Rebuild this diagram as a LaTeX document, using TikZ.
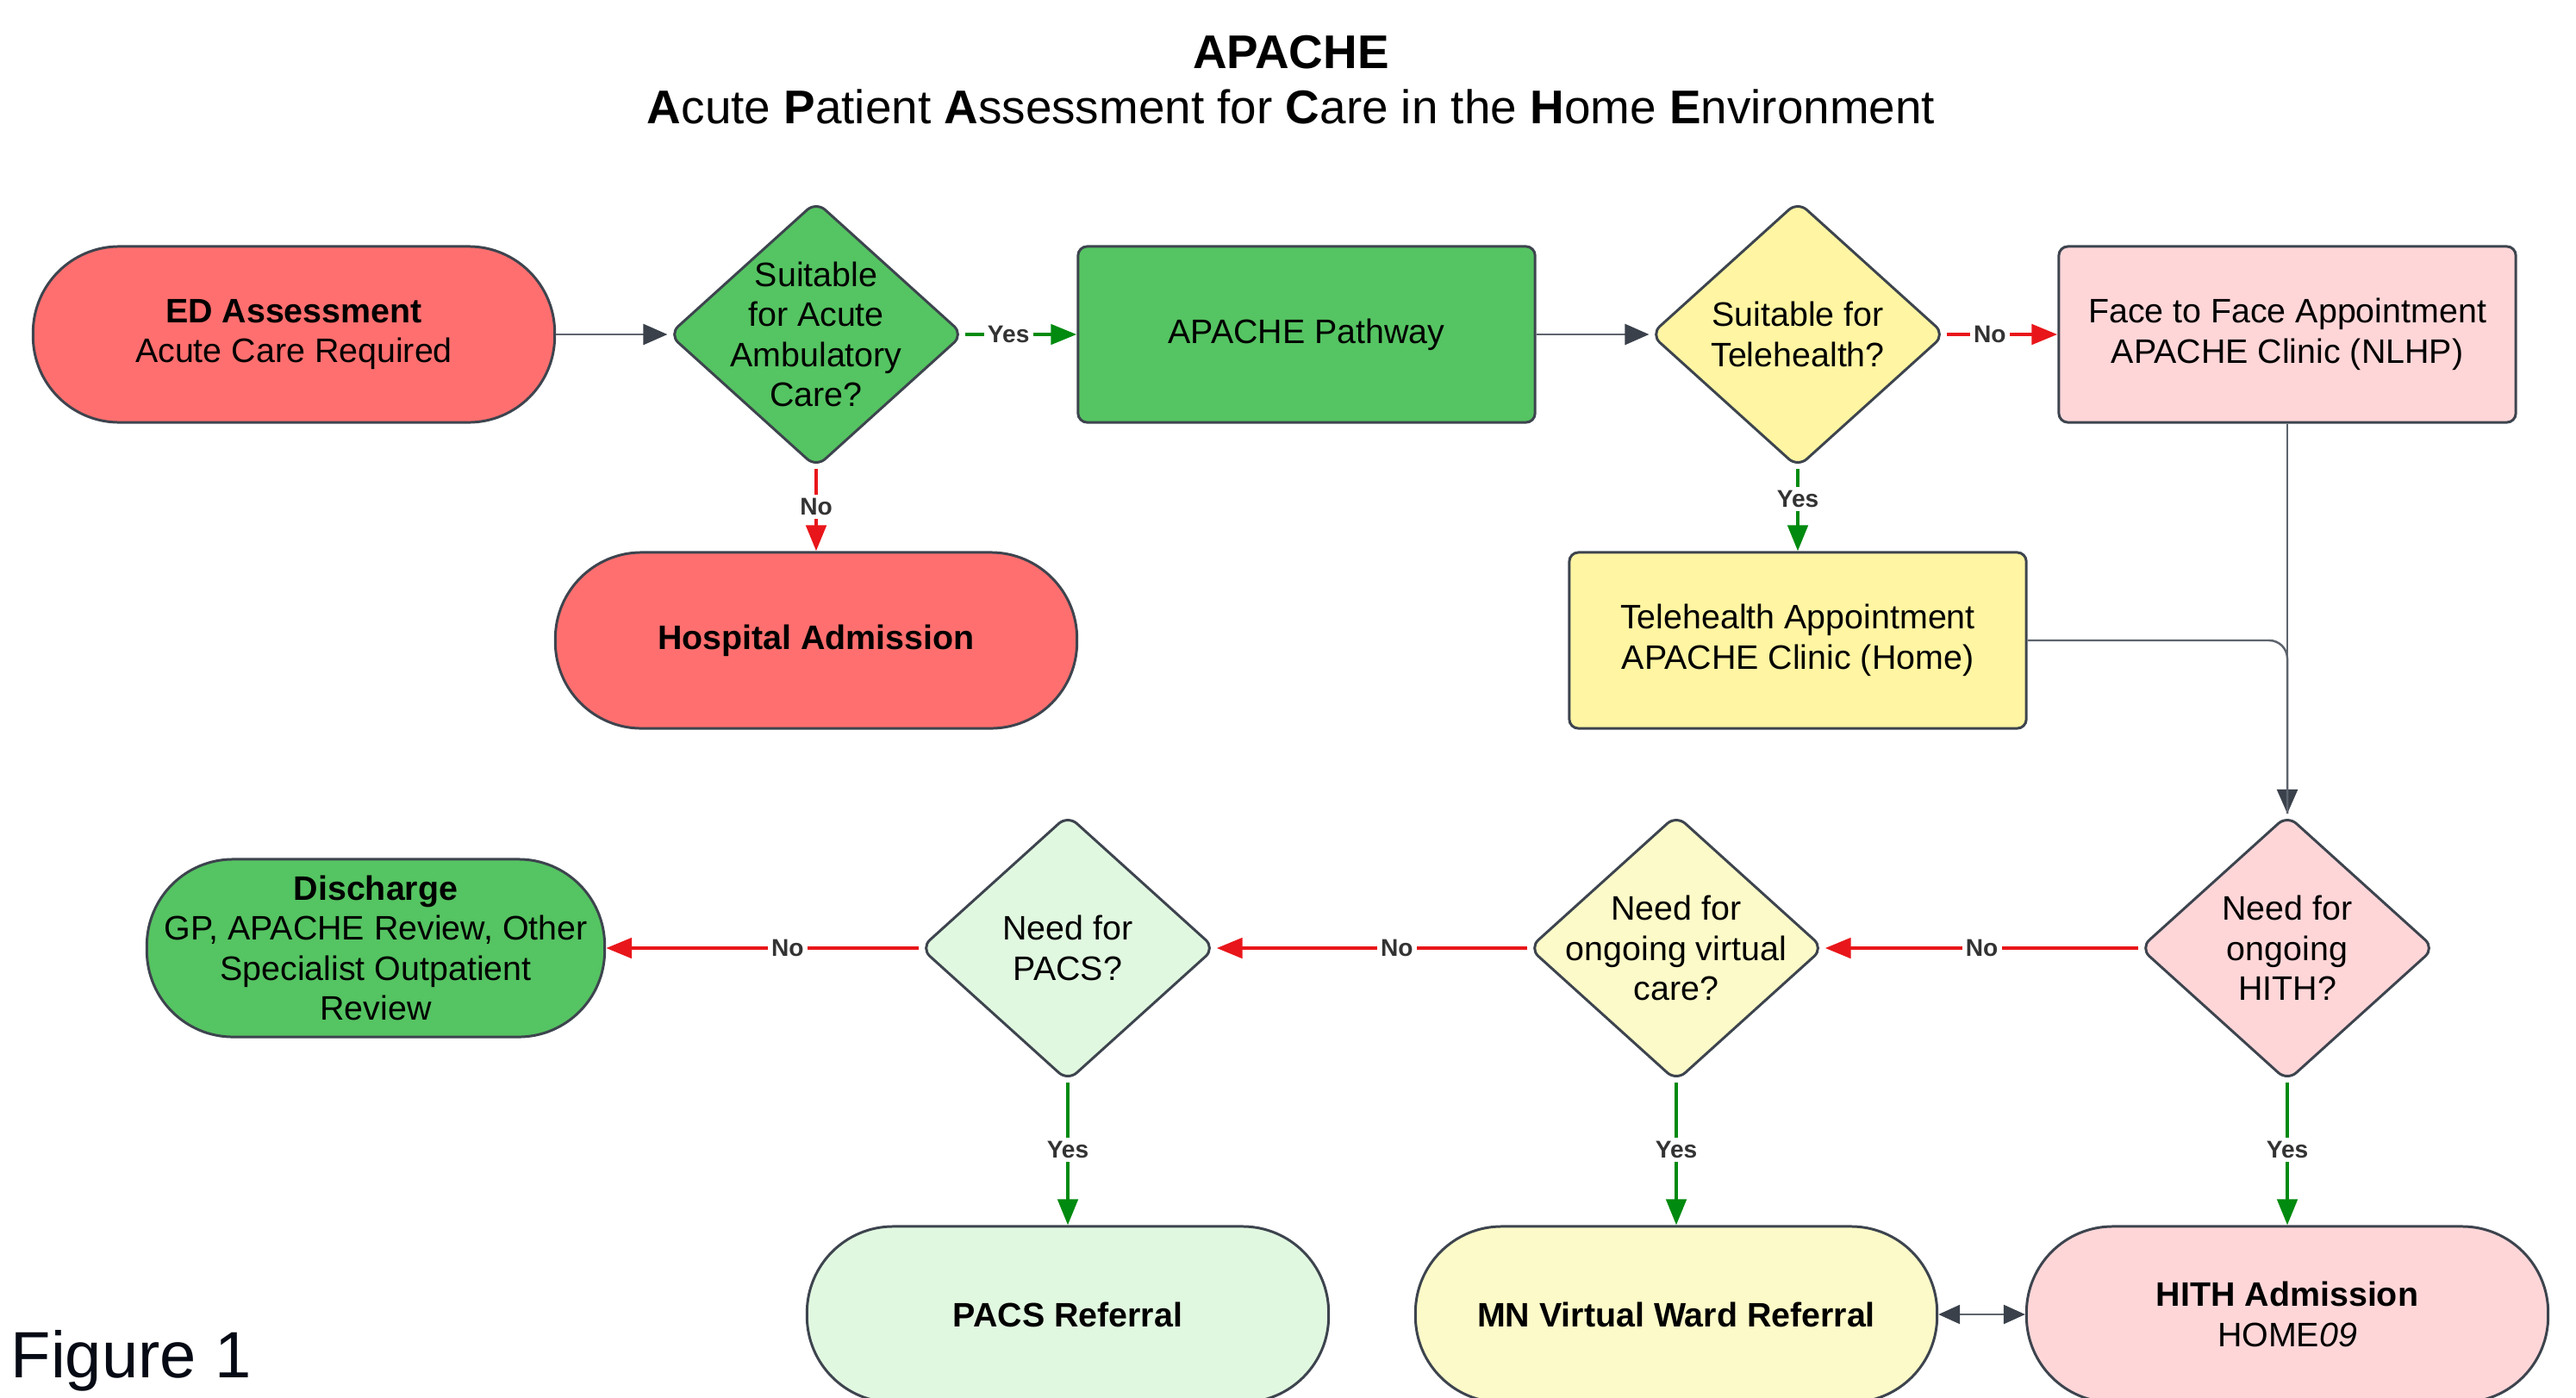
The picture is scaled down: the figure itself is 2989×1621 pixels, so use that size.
\documentclass[tikz,border=0pt]{standalone}
\usepackage{fontspec}
\setmainfont{Liberation Sans}
\usetikzlibrary{shapes.geometric,arrows.meta}
\definecolor{redfill}{HTML}{FF6F6F}
\definecolor{greenfill}{HTML}{55C462}
\definecolor{yellowfill}{HTML}{FFF5A2}
\definecolor{pinkfill}{HTML}{FFD6D8}
\definecolor{lgreenfill}{HTML}{E1F8E0}
\definecolor{lyellowfill}{HTML}{FCFAC8}
\definecolor{nodeline}{HTML}{3D444E}
\definecolor{connline}{HTML}{5E646D}
\definecolor{headgray}{HTML}{3A414B}
\definecolor{yesgreen}{HTML}{008A0F}
\definecolor{nored}{HTML}{E8161A}
\definecolor{labgray}{HTML}{333333}
\definecolor{figblack}{HTML}{050A14}
\begin{document}
\begin{tikzpicture}[x=0.01cm,y=-0.01cm,
  font=\fontsize{11.2}{13.2}\selectfont,
  box/.style={rectangle, rounded corners=3pt, draw=nodeline, line width=0.85pt,
    minimum width=5.3cm, minimum height=2.04cm, align=center, inner sep=2pt},
  term/.style={rectangle, rounded corners=1.0cm, draw=nodeline, line width=0.85pt,
    minimum width=6.05cm, minimum height=2.04cm, align=center, inner sep=2pt},
  dec/.style={diamond, rounded corners=4pt, draw=nodeline, line width=0.85pt,
    minimum width=3.42cm, minimum height=3.09cm, inner sep=0pt},
  dectext/.style={align=center, inner sep=0pt},
  lab/.style={fill=white, font=\fontsize{8}{9}\selectfont\bfseries, text=labgray, inner sep=1.2pt},
  conn/.style={draw=connline, line width=0.7pt, -{Triangle[length=0.28cm,width=0.24cm,color=headgray]}},
  connplain/.style={draw=connline, line width=0.7pt},
  yesarr/.style={draw=yesgreen, line width=1.3pt, -{Triangle[length=0.3cm,width=0.23cm]}},
  noarr/.style={draw=nored, line width=1.4pt, -{Triangle[length=0.3cm,width=0.23cm]}},
]
\useasboundingbox (0,0) rectangle (2989,1621);

% title
\node[font=\fontsize{15.6}{18}\selectfont\bfseries] (title) at (1498,61) {APACHE};
\node[font=\fontsize{15.6}{18}\selectfont] (subtitle) at (1498,124)
  {\textbf{A}cute \textbf{P}atient \textbf{A}ssessment for \textbf{C}are in the \textbf{H}ome \textbf{E}nvironment};

% row 1
\node[term, fill=redfill] (ed) at (341,388) {\textbf{ED Assessment}\\Acute Care Required};
\node[dec, fill=greenfill, label={[dectext]center:{Suitable\\for Acute\\Ambulatory\\Care?}}] (d1) at (947,388) {};
\node[box, fill=greenfill] (path) at (1516,388) {APACHE Pathway};
\node[dec, fill=yellowfill, label={[dectext]center:{Suitable for\\Telehealth?}}] (d2) at (2086,388) {};
\node[box, fill=pinkfill] (f2f) at (2654,388) {Face to Face Appointment\\APACHE Clinic (NLHP)};

% row 2
\node[term, fill=redfill] (hosp) at (947,743) {\textbf{Hospital Admission}};
\node[box, fill=yellowfill] (tele) at (2086,743) {Telehealth Appointment\\APACHE Clinic (Home)};

% row 3
\node[term, fill=greenfill, minimum width=5.31cm, minimum height=2.06cm] (dis) at (436,1100)
  {\textbf{Discharge}\\GP, APACHE Review, Other\\Specialist Outpatient\\Review};
\node[dec, fill=lgreenfill, label={[dectext]center:{Need for\\PACS?}}] (d5) at (1239,1100) {};
\node[dec, fill=lyellowfill, label={[dectext]center:{Need for\\ongoing virtual\\care?}}] (d4) at (1945,1100) {};
\node[dec, fill=pinkfill, label={[dectext]center:{Need for\\ongoing\\HITH?}}] (d3) at (2654,1100) {};

% row 4 (cut off at the bottom edge)
\node[term, fill=lgreenfill] (pacs) at (1239,1525) {\textbf{PACS Referral}};
\node[term, fill=lyellowfill] (mn) at (1945,1525) {\textbf{MN Virtual Ward Referral}};
\node[term, fill=pinkfill] (hadm) at (2654,1525) {\textbf{HITH Admission}\\HOME\textit{09}};

% figure label
\node[anchor=base west, font=\fontsize{21.6}{26}\selectfont, text=figblack, inner sep=0pt] (fig) at (12,1598) {Figure 1};

% connectors
\draw[conn] (ed) -- (d1);
\draw[yesarr] (d1) -- node[lab, pos=0.39] {Yes} (path);
\draw[noarr] (d1) -- node[lab, pos=0.46] {No} (hosp);
\draw[conn] (path) -- (d2);
\draw[noarr] (d2) -- node[lab, pos=0.39] {No} (f2f);
\draw[yesarr] (d2) -- node[lab, pos=0.37] {Yes} (tele);
\draw[conn] (f2f) -- (d3);
\draw[connplain, rounded corners=6pt] (tele.east) -| (d3.north);

\draw[noarr] (d3) -- node[lab, pos=0.5] {No} (d4);
\draw[noarr] (d4) -- node[lab, pos=0.42] {No} (d5);
\draw[noarr] (d5) -- node[lab, pos=0.42] {No} (dis);

\draw[yesarr] (d5) -- node[lab, pos=0.47] {Yes} (pacs);
\draw[yesarr] (d4) -- node[lab, pos=0.47] {Yes} (mn);
\draw[yesarr] (d3) -- node[lab, pos=0.47] {Yes} (hadm);

\draw[connplain, {Triangle[length=0.25cm,width=0.22cm,color=headgray]}-{Triangle[length=0.25cm,width=0.22cm,color=headgray]}] (mn) -- (hadm);
\end{tikzpicture}
\end{document}
